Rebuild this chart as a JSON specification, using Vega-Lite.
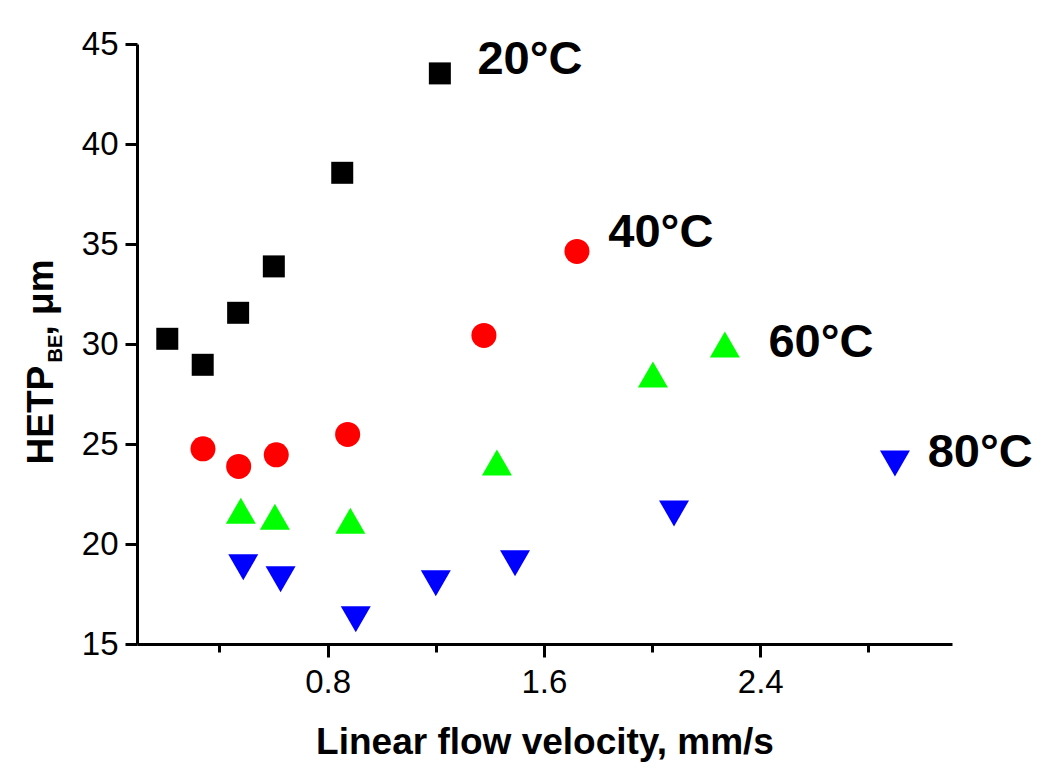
{
  "$schema": "https://vega.github.io/schema/vega-lite/v6.json",
  "width": 815,
  "height": 600,
  "autosize": {"type": "none"},
  "padding": {"left": 137, "top": 44, "right": 98, "bottom": 131},
  "background": "white",
  "config": {"view": {"stroke": null}, "font": "Liberation Sans"},
  "datasets": {
    "pts": [
      {"T": 20, "x": 0.207, "y": 30.26},
      {"T": 20, "x": 0.338, "y": 28.96},
      {"T": 20, "x": 0.469, "y": 31.56},
      {"T": 20, "x": 0.601, "y": 33.88},
      {"T": 20, "x": 0.854, "y": 38.56},
      {"T": 20, "x": 1.215, "y": 43.53},
      {"T": 40, "x": 0.339, "y": 24.76},
      {"T": 40, "x": 0.471, "y": 23.88},
      {"T": 40, "x": 0.61, "y": 24.46},
      {"T": 40, "x": 0.874, "y": 25.48},
      {"T": 40, "x": 1.378, "y": 30.43},
      {"T": 40, "x": 1.722, "y": 34.63},
      {"T": 60, "x": 0.479, "y": 21.66},
      {"T": 60, "x": 0.605, "y": 21.36},
      {"T": 60, "x": 0.884, "y": 21.16},
      {"T": 60, "x": 1.426, "y": 24.08},
      {"T": 60, "x": 2.003, "y": 28.48},
      {"T": 60, "x": 2.269, "y": 29.98},
      {"T": 80, "x": 0.488, "y": 18.84},
      {"T": 80, "x": 0.626, "y": 18.24},
      {"T": 80, "x": 0.904, "y": 16.24},
      {"T": 80, "x": 1.2, "y": 18.04},
      {"T": 80, "x": 1.493, "y": 19.04},
      {"T": 80, "x": 2.081, "y": 21.53},
      {"T": 80, "x": 2.898, "y": 24.03}
    ],
    "labels": [
      {"label": "20°C", "x": 1.354, "y": 43.51},
      {"label": "40°C", "x": 1.838, "y": 34.84},
      {"label": "60°C", "x": 2.43, "y": 29.34},
      {"label": "80°C", "x": 3.019, "y": 23.84}
    ]
  },
  "encoding": {
    "x": {
      "field": "x",
      "type": "quantitative",
      "scale": {"domain": [0.095, 3.109], "nice": false, "zero": false},
      "axis": {
        "values": [0.4, 0.8, 1.2, 1.6, 2.0, 2.4, 2.8],
        "format": ".1f",
        "labelExpr": "(datum.value == 0.8 || datum.value == 1.6 || datum.value == 2.4) ? datum.label : ''",
        "tickSize": {"condition": {"test": "datum.value == 0.8 || datum.value == 1.6 || datum.value == 2.4", "value": 13}, "value": 8},
        "tickWidth": 3,
        "tickColor": "black",
        "domainWidth": 3,
        "domainColor": "black",
        "grid": false,
        "labelFontSize": 33,
        "labelFont": "Liberation Sans",
        "labelColor": "black",
        "labelPadding": 9,
        "labelFlush": false,
        "labelOverlap": false,
        "title": "Linear flow velocity, mm/s",
        "titleFont": "Liberation Sans",
        "titleFontSize": 37,
        "titleFontWeight": "bold",
        "titleColor": "black",
        "titleAlign": "center",
        "titleBaseline": "alphabetic",
        "titleX": 407.5,
        "titleY": 109
      }
    }
  },
  "layer": [
    {
      "data": {"name": "pts"},
      "transform": [{"filter": "datum.T == 20"}],
      "mark": {"type": "point", "filled": true, "opacity": 1, "shape": "square", "color": "#000000", "size": 484},
      "encoding": {
        "y": {
          "field": "y",
          "type": "quantitative",
          "scale": {"domain": [15, 45], "nice": false, "zero": false},
          "axis": {
            "orient": "left",
            "values": [15, 20, 25, 30, 35, 40, 45],
            "tickSize": 12,
            "tickWidth": 3,
            "tickColor": "black",
            "domainWidth": 3,
            "domainColor": "black",
            "grid": false,
            "labelFontSize": 33,
            "labelFont": "Liberation Sans",
            "labelColor": "black",
            "labelPadding": 7,
            "labelFlush": false,
            "labelOverlap": false,
            "title": "HETP",
            "titleFont": "Liberation Sans",
            "titleFontSize": 37,
            "titleFontWeight": "bold",
            "titleColor": "black",
            "titleAngle": 270,
            "titleAlign": "left",
            "titleBaseline": "alphabetic",
            "titleX": -85,
            "titleY": 420
          }
        }
      }
    },
    {
      "data": {"name": "pts"},
      "transform": [{"filter": "datum.T == 40"}],
      "mark": {"type": "point", "filled": true, "opacity": 1, "shape": "circle", "color": "#ff0000", "size": 625},
      "encoding": {
        "y": {
          "field": "y",
          "type": "quantitative",
          "scale": {"domain": [15, 45], "nice": false, "zero": false},
          "axis": {
            "orient": "left",
            "domain": false,
            "ticks": false,
            "labels": false,
            "grid": false,
            "title": "BE",
            "titleFont": "Liberation Sans",
            "titleFontSize": 20,
            "titleFontWeight": "bold",
            "titleColor": "black",
            "titleAngle": 270,
            "titleAlign": "left",
            "titleBaseline": "alphabetic",
            "titleX": -75.5,
            "titleY": 318
          }
        }
      }
    },
    {
      "data": {"name": "pts"},
      "transform": [{"filter": "datum.T == 60"}],
      "mark": {"type": "point", "filled": true, "opacity": 1, "shape": "triangle-up", "color": "#00ff00", "size": 900},
      "encoding": {
        "y": {
          "field": "y",
          "type": "quantitative",
          "scale": {"domain": [15, 45], "nice": false, "zero": false},
          "axis": {
            "orient": "left",
            "domain": false,
            "ticks": false,
            "labels": false,
            "grid": false,
            "title": ", μm",
            "titleFont": "Liberation Sans",
            "titleFontSize": 37,
            "titleFontWeight": "bold",
            "titleColor": "black",
            "titleAngle": 270,
            "titleAlign": "left",
            "titleBaseline": "alphabetic",
            "titleX": -85,
            "titleY": 291
          }
        }
      }
    },
    {
      "data": {"name": "pts"},
      "transform": [{"filter": "datum.T == 80"}],
      "mark": {"type": "point", "filled": true, "opacity": 1, "shape": "triangle-down", "color": "#0000ff", "size": 900},
      "encoding": {
        "y": {
          "field": "y",
          "type": "quantitative",
          "scale": {"domain": [15, 45], "nice": false, "zero": false},
          "axis": null
        }
      }
    },
    {
      "data": {"name": "labels"},
      "mark": {"type": "text", "align": "left", "baseline": "alphabetic", "fontSize": 47, "fontWeight": "bold", "font": "Liberation Sans", "color": "black"},
      "encoding": {
        "text": {"field": "label", "type": "nominal"},
        "y": {
          "field": "y",
          "type": "quantitative",
          "scale": {"domain": [15, 45], "nice": false, "zero": false},
          "axis": null
        }
      }
    }
  ],
  "resolve": {"axis": {"y": "independent"}, "scale": {"y": "shared"}}
}
